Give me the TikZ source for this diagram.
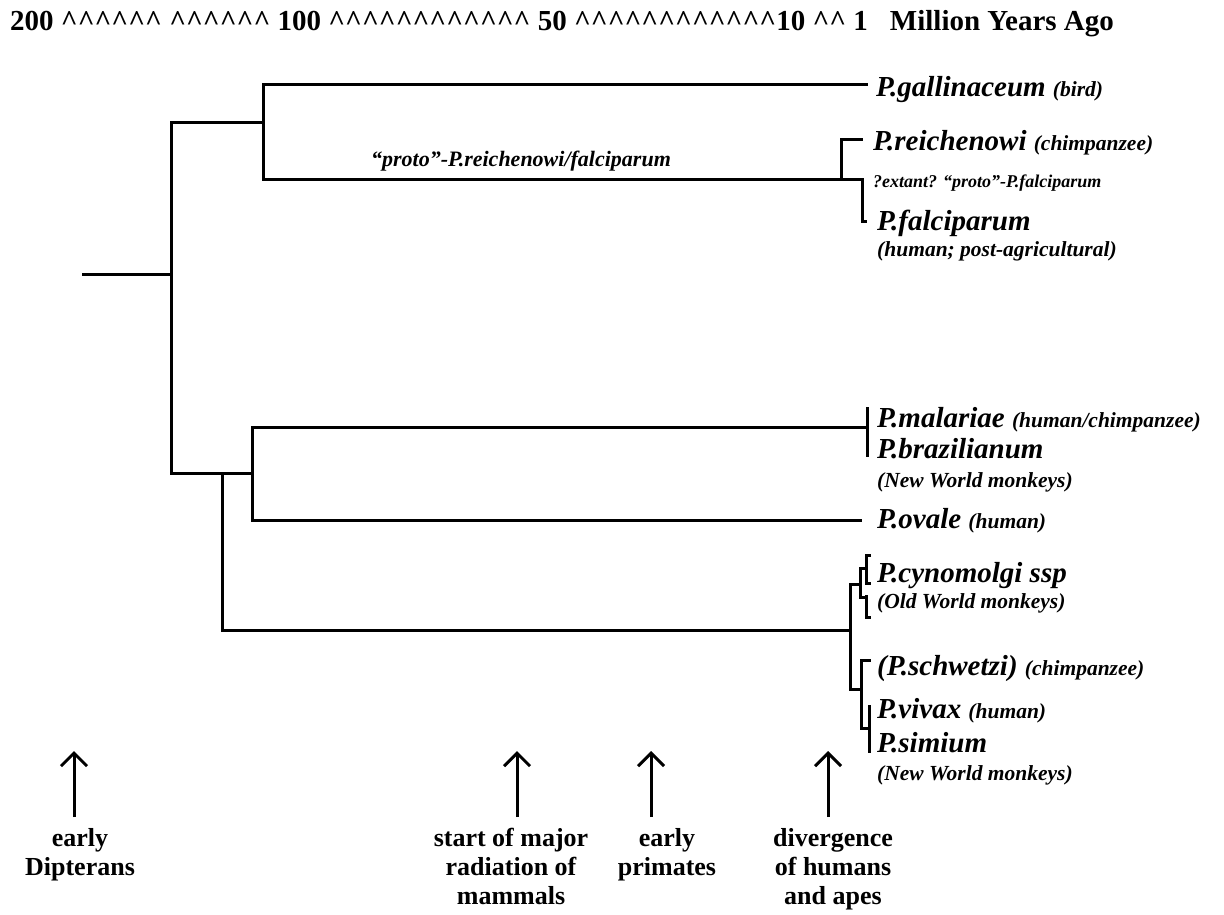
\documentclass[tikz,border=0pt]{standalone}
\usepackage{fontspec}
\setmainfont{Liberation Serif}
\usetikzlibrary{arrows.meta,positioning}

\newcommand\hats[1]{\foreach \i in {1,...,#1}{\textasciicircum}}
\newcommand\hst[1]{{\fontsize{21.5}{24}\selectfont #1}}

\begin{document}
\begin{tikzpicture}[x=1pt,y=-1pt,>={Straight Barb[length=13pt,width=26pt]},
    tree/.style={line width=3pt},
    sp/.style={anchor=base west, inner sep=0pt, font=\fontsize{29}{32}\selectfont\bfseries\itshape},
    host/.style={anchor=base west, inner sep=0pt, font=\fontsize{21.5}{24}\selectfont\bfseries\itshape},
    evt/.style={anchor=north, inner sep=0pt, align=center, font=\fontsize{26}{29}\selectfont\bfseries}]
    \useasboundingbox (0,0) rectangle (1224,915);

    % time axis
    \node[anchor=base west, inner sep=0pt, font=\fontsize{29}{30}\selectfont\bfseries] (axis) at (10,31)
        {200 \hats{6} \hats{6} 100 \hats{12} 50 \hats{12}10 \hats{2} 1\hspace{22pt}Million Years Ago};

    % branch points
    \coordinate (stem) at (82,274);
    \coordinate (root) at (171,274);
    \coordinate (up) at (263,123);
    \coordinate (low) at (252,473);
    \coordinate (lowfork) at (222,473);
    \coordinate (proto) at (841,180);
    \coordinate (falK) at (862,180);
    \coordinate (viv) at (850,630);
    \coordinate (cyn) at (860,584);
    \coordinate (sch) at (861,689);
    % tips
    \coordinate (galT) at (868,85);
    \coordinate (reiT) at (863,140);
    \coordinate (falT) at (867,221);
    \coordinate (malT) at (867,427);
    \coordinate (ovaT) at (862,520);
    \coordinate (cyn1) at (866,568);
    \coordinate (cyn2) at (866,597);
    \coordinate (schT) at (871,660);
    \coordinate (vivT) at (869,728);

    % tree
    \draw[tree] (stem) -- (root);
    \draw[tree] (root) |- (up);
    \draw[tree] (root) |- (low);
    \draw[tree] (up) |- (galT);
    \draw[tree] (up) |- (proto);
    \draw[tree] (proto) |- (reiT);
    \draw[tree] (proto) -- (falK) |- (falT);
    \draw[tree] (low) |- (malT);
    \draw[tree] (low) |- (ovaT);
    \draw[tree] (lowfork) |- (viv);
    \draw[tree] (viv) |- (cyn);
    \draw[tree] (viv) |- (sch);
    \draw[tree] (cyn) |- (cyn1);
    \draw[tree] (cyn) |- (cyn2);
    \draw[tree] (sch) |- (schT);
    \draw[tree] (sch) |- (vivT);
    \draw[tree] (malT) ++(0,-20) -- ++(0,50);
    \draw[tree] (cyn1) ++(5,-13) -- ++(-5,0) -- ++(0,28) -- ++(5,0);
    \draw[tree] (cyn2) ++(0,-2) -- ++(0,22) -- ++(5,0);
    \draw[tree] (vivT) ++(0,-23) -- ++(0,48);

    % labels
    \node[sp] (gal) at (876,97) {P.gallinaceum \hst{(bird)}};
    \node[anchor=base, font=\fontsize{22}{24}\selectfont\bfseries\itshape] (protolbl) at (521,167)
        {“proto”-P.reichenowi/falciparum};
    \node[sp] (rei) at (873,151) {P.reichenowi \hst{(chimpanzee)}};
    \node[anchor=base west, inner sep=0pt, font=\fontsize{18}{20}\selectfont\bfseries\itshape] (ext) at (873,187)
        {?extant? “proto”-P.falciparum};
    \node[sp] (fal) at (877,230) {P.falciparum};
    \node[host] (falh) at (877,256) {(human; post-agricultural)};
    \node[sp] (mal) at (877,427) {P.malariae \hst{(human/chimpanzee)}};
    \node[sp] (bra) at (877,458) {P.brazilianum};
    \node[host] (brah) at (877,487) {(New World monkeys)};
    \node[sp] (ova) at (877,528) {P.ovale \hst{(human)}};
    \node[sp] (cyno) at (877,582) {P.cynomolgi ssp};
    \node[host] (cynoh) at (877,608) {(Old World monkeys)};
    \node[sp] (schw) at (877,675) {(P.schwetzi) \hst{(chimpanzee)}};
    \node[sp] (viva) at (877,718) {P.vivax \hst{(human)}};
    \node[sp] (sim) at (877,752) {P.simium};
    \node[host] (simh) at (877,780) {(New World monkeys)};

    % events
    \node[evt] (dip) at (80,828) {early\\Dipterans};
    \node[evt] (mam) at (511,828) {start of major\\radiation of\\mammals};
    \node[evt] (pri) at (667,828) {early\\primates};
    \node[evt] (ape) at (833,828) {divergence\\of humans\\and apes};
    \foreach \n/\x in {dip/74,mam/517,pri/651,ape/828} {
        \coordinate (\n-tip) at (\x,751);
        \draw[->, line width=3pt, shorten <=11pt] (\n.north -| \n-tip) -- (\n-tip);
    }
\end{tikzpicture}
\end{document}
